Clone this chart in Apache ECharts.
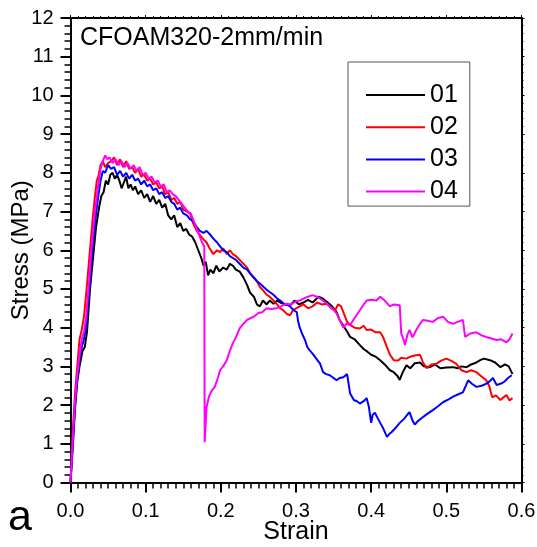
<!DOCTYPE html>
<html><head><meta charset="utf-8">
<script src="https://cdn.jsdelivr.net/npm/echarts@6/dist/echarts.min.js"></script>
<style>html,body{margin:0;padding:0;background:#fff}#c{width:537px;height:547px}</style>
</head><body><div id="c"></div>
<script>
const seriesNames = ['01','02','03','04'];
const seriesColors = ['#000000','#ff0000','#0000ff','#ff00ff'];
const xTicks = [0,0.1,0.2,0.3,0.4,0.5,0.6];
const yTicks = [0,1,2,3,4,5,6,7,8,9,10,11,12];

const s01 = [[0,0],[0.003,0.9],[0.006,1.9],[0.009,2.6],[0.012,3.0],[0.016,3.4],[0.019,3.5],[0.022,3.9],[0.026,5.0],[0.03,5.8],[0.034,6.6],[0.038,7.1],[0.041,7.4],[0.044,7.5],[0.047,7.8],[0.05,7.7],[0.053,7.95],[0.056,8.0],[0.059,7.85],[0.062,7.95],[0.065,7.8],[0.068,7.6],[0.071,7.75],[0.074,7.9],[0.077,7.6],[0.08,7.7],[0.083,7.55],[0.086,7.65],[0.09,7.45],[0.094,7.55],[0.098,7.35],[0.102,7.45],[0.106,7.25],[0.11,7.4],[0.114,7.2],[0.118,7.3],[0.122,7.1],[0.126,7.2],[0.13,6.9],[0.134,6.8],[0.138,6.9],[0.142,6.6],[0.146,6.7],[0.15,6.5],[0.154,6.55],[0.158,6.4],[0.162,6.35],[0.166,6.2],[0.17,6.0],[0.174,5.8],[0.177,5.6],[0.18,5.7],[0.183,5.35],[0.186,5.5],[0.19,5.4],[0.194,5.6],[0.198,5.45],[0.203,5.55],[0.208,5.5],[0.212,5.65],[0.216,5.6],[0.22,5.5],[0.225,5.45],[0.23,5.3],[0.235,5.1],[0.239,4.9],[0.244,4.8],[0.248,4.6],[0.252,4.55],[0.256,4.7],[0.261,4.6],[0.265,4.7],[0.27,4.62],[0.275,4.7],[0.279,4.65],[0.285,4.6],[0.292,4.57],[0.298,4.7],[0.304,4.6],[0.31,4.65],[0.316,4.72],[0.322,4.65],[0.33,4.8],[0.336,4.75],[0.342,4.65],[0.348,4.55],[0.354,4.4],[0.358,4.2],[0.363,4.05],[0.368,3.9],[0.372,3.76],[0.378,3.7],[0.385,3.55],[0.39,3.45],[0.395,3.38],[0.4,3.3],[0.406,3.25],[0.412,3.16],[0.418,3.05],[0.425,2.9],[0.43,2.85],[0.435,2.75],[0.438,2.65],[0.442,2.85],[0.447,3.03],[0.452,2.95],[0.458,3.08],[0.465,3.1],[0.47,3.0],[0.478,2.98],[0.485,3.05],[0.492,2.95],[0.5,2.97],[0.509,2.98],[0.515,2.95],[0.52,3.0],[0.527,2.98],[0.533,3.05],[0.54,3.1],[0.545,3.16],[0.55,3.2],[0.558,3.16],[0.565,3.1],[0.572,2.98],[0.578,3.05],[0.583,3.0],[0.588,2.8]];

const s02 = [[0,0],[0.003,1.3],[0.006,2.3],[0.009,3.0],[0.012,3.7],[0.015,3.95],[0.018,4.3],[0.021,4.9],[0.025,5.8],[0.029,6.7],[0.032,7.3],[0.035,7.8],[0.037,7.9],[0.04,8.2],[0.043,8.3],[0.046,8.15],[0.05,8.25],[0.054,8.3],[0.058,8.4],[0.062,8.2],[0.066,8.35],[0.07,8.15],[0.074,8.3],[0.078,8.1],[0.082,8.15],[0.086,8.0],[0.09,8.1],[0.094,7.9],[0.098,7.95],[0.102,7.8],[0.106,7.85],[0.11,7.7],[0.114,7.75],[0.118,7.6],[0.122,7.65],[0.126,7.45],[0.13,7.5],[0.134,7.3],[0.138,7.35],[0.142,7.2],[0.146,7.25],[0.15,7.05],[0.155,7.0],[0.159,6.95],[0.163,6.7],[0.168,6.5],[0.172,6.4],[0.176,6.3],[0.181,6.2],[0.185,6.05],[0.19,5.9],[0.195,6.0],[0.199,5.95],[0.203,6.05],[0.208,5.9],[0.212,6.0],[0.216,5.9],[0.22,5.85],[0.225,5.75],[0.23,5.65],[0.235,5.55],[0.239,5.4],[0.243,5.3],[0.248,5.2],[0.252,5.05],[0.256,4.97],[0.261,4.85],[0.265,4.8],[0.27,4.7],[0.275,4.6],[0.279,4.5],[0.283,4.45],[0.288,4.35],[0.292,4.32],[0.296,4.45],[0.3,4.5],[0.305,4.55],[0.31,4.6],[0.316,4.5],[0.322,4.55],[0.328,4.65],[0.334,4.6],[0.341,4.62],[0.347,4.5],[0.352,4.45],[0.356,4.6],[0.36,4.55],[0.364,4.35],[0.368,4.15],[0.372,4.07],[0.378,4.0],[0.385,3.98],[0.39,4.05],[0.394,3.94],[0.4,3.95],[0.406,3.88],[0.412,3.88],[0.416,3.75],[0.421,3.5],[0.425,3.3],[0.43,3.16],[0.436,3.15],[0.44,3.22],[0.447,3.2],[0.452,3.25],[0.458,3.28],[0.465,3.3],[0.469,3.1],[0.474,2.95],[0.48,3.05],[0.487,3.07],[0.493,3.15],[0.5,3.2],[0.506,3.15],[0.513,3.07],[0.52,2.9],[0.527,2.85],[0.533,2.9],[0.54,2.85],[0.546,2.75],[0.553,2.64],[0.557,2.5],[0.561,2.2],[0.566,2.25],[0.572,2.13],[0.576,2.2],[0.58,2.26],[0.584,2.12],[0.588,2.18]];

const s03 = [[0,0],[0.003,1.0],[0.006,2.0],[0.009,2.7],[0.012,3.2],[0.015,3.5],[0.018,3.7],[0.021,4.1],[0.025,5.0],[0.029,6.0],[0.033,6.8],[0.037,7.4],[0.04,7.8],[0.043,8.05],[0.046,8.0],[0.05,8.2],[0.054,8.1],[0.058,8.15],[0.062,7.95],[0.066,8.05],[0.07,7.9],[0.074,8.0],[0.078,7.85],[0.082,7.95],[0.086,7.8],[0.09,7.85],[0.094,7.7],[0.098,7.8],[0.102,7.65],[0.106,7.7],[0.11,7.55],[0.114,7.6],[0.118,7.45],[0.122,7.5],[0.126,7.35],[0.13,7.4],[0.134,7.25],[0.138,7.2],[0.142,7.05],[0.146,7.1],[0.15,6.95],[0.155,6.9],[0.159,6.8],[0.163,6.75],[0.168,6.6],[0.172,6.5],[0.177,6.45],[0.181,6.5],[0.186,6.4],[0.19,6.3],[0.195,6.2],[0.199,6.1],[0.203,6.0],[0.208,5.95],[0.212,5.85],[0.216,5.8],[0.22,5.75],[0.225,5.65],[0.23,5.55],[0.235,5.5],[0.239,5.4],[0.244,5.3],[0.248,5.2],[0.252,5.14],[0.257,5.05],[0.261,4.98],[0.265,4.92],[0.27,4.85],[0.275,4.75],[0.279,4.7],[0.284,4.62],[0.288,4.6],[0.292,4.55],[0.297,4.45],[0.301,4.4],[0.303,4.15],[0.305,4.0],[0.308,3.85],[0.312,3.68],[0.315,3.5],[0.318,3.42],[0.322,3.33],[0.327,3.2],[0.332,3.07],[0.336,2.85],[0.34,2.8],[0.345,2.77],[0.35,2.7],[0.354,2.64],[0.358,2.7],[0.363,2.72],[0.368,2.8],[0.372,2.3],[0.377,2.13],[0.381,2.1],[0.385,2.04],[0.39,2.1],[0.394,2.18],[0.397,1.95],[0.4,1.54],[0.402,1.75],[0.405,1.8],[0.409,1.65],[0.412,1.54],[0.416,1.4],[0.421,1.18],[0.424,1.25],[0.427,1.3],[0.432,1.4],[0.438,1.54],[0.444,1.65],[0.448,1.75],[0.451,1.82],[0.455,1.6],[0.458,1.5],[0.463,1.6],[0.469,1.69],[0.475,1.78],[0.482,1.87],[0.489,1.97],[0.496,2.08],[0.503,2.15],[0.509,2.22],[0.516,2.28],[0.522,2.33],[0.526,2.5],[0.529,2.64],[0.534,2.55],[0.54,2.47],[0.547,2.5],[0.554,2.56],[0.558,2.62],[0.562,2.7],[0.567,2.52],[0.572,2.55],[0.577,2.6],[0.582,2.7],[0.587,2.77]];

const s04 = [[0,0],[0.003,1.1],[0.006,2.1],[0.009,2.8],[0.012,3.3],[0.015,3.7],[0.018,3.9],[0.021,4.3],[0.025,5.3],[0.029,6.3],[0.033,7.1],[0.037,7.7],[0.04,8.1],[0.043,8.3],[0.046,8.45],[0.049,8.35],[0.052,8.4],[0.056,8.25],[0.06,8.35],[0.064,8.2],[0.068,8.3],[0.072,8.15],[0.076,8.25],[0.08,8.1],[0.084,8.2],[0.088,8.05],[0.092,8.15],[0.096,7.95],[0.1,8.0],[0.104,7.85],[0.108,7.9],[0.112,7.75],[0.116,7.8],[0.12,7.65],[0.124,7.7],[0.128,7.5],[0.132,7.55],[0.136,7.45],[0.14,7.4],[0.144,7.3],[0.148,7.2],[0.152,7.1],[0.156,7.0],[0.16,6.95],[0.164,6.75],[0.168,6.55],[0.172,6.35],[0.175,6.2],[0.178,6.1],[0.1785,1.04],[0.181,1.94],[0.184,2.2],[0.186,2.3],[0.189,2.4],[0.192,2.47],[0.196,2.7],[0.199,2.9],[0.203,3.0],[0.208,3.16],[0.212,3.4],[0.216,3.6],[0.22,3.75],[0.225,3.98],[0.23,4.1],[0.235,4.2],[0.24,4.25],[0.245,4.3],[0.25,4.38],[0.255,4.4],[0.261,4.5],[0.267,4.48],[0.274,4.5],[0.28,4.55],[0.287,4.62],[0.293,4.6],[0.3,4.68],[0.305,4.7],[0.31,4.75],[0.316,4.8],[0.322,4.84],[0.328,4.8],[0.336,4.7],[0.342,4.6],[0.348,4.5],[0.354,4.37],[0.358,4.2],[0.363,4.0],[0.367,4.1],[0.372,4.07],[0.378,4.25],[0.385,4.45],[0.39,4.6],[0.394,4.7],[0.4,4.72],[0.407,4.7],[0.412,4.8],[0.418,4.7],[0.425,4.55],[0.43,4.6],[0.438,4.58],[0.44,3.85],[0.443,3.7],[0.445,3.55],[0.448,3.8],[0.451,3.94],[0.455,3.75],[0.46,3.94],[0.465,4.1],[0.469,4.2],[0.475,4.18],[0.482,4.15],[0.489,4.25],[0.496,4.28],[0.502,4.15],[0.509,4.1],[0.515,4.15],[0.522,4.2],[0.525,3.76],[0.532,3.85],[0.54,3.88],[0.547,3.8],[0.553,3.76],[0.56,3.72],[0.567,3.68],[0.573,3.7],[0.58,3.62],[0.584,3.7],[0.588,3.85]];

const seriesData = [s01, s02, s03, s04];
const FONT = 'Arial, "Liberation Sans", sans-serif';

const chart = echarts.init(document.getElementById('c'), null, {renderer: 'canvas'});
const axisCommon = {
  axisLine: {show: true, onZero: false, lineStyle: {color: '#000', width: 2}},
  splitLine: {show: false}
};
chart.setOption({
  animation: false,
  backgroundColor: '#fff',
  grid: {left: 70.5, right: 15.5, top: 18, bottom: 64.5, containLabel: false, outerBoundsMode: 'none'},
  legend: {
    data: seriesNames,
    orient: 'vertical',
    left: 348, top: 62,
    padding: [20.5, 12, 2, 18],
    itemGap: 7.2,
    itemWidth: 59, itemHeight: 2,
    itemTextGap: 3,
    icon: 'rect',
    borderColor: '#555', borderWidth: 1,
    textStyle: {fontFamily: FONT, fontSize: 25, color: '#000'}
  },
  xAxis: [{
    type: 'value', min: 0, max: 0.6, interval: 0.1, position: 'bottom',
    ...axisCommon,
    axisTick: {show: true, inside: false, length: 10, lineStyle: {color: '#000', width: 2}},
    minorTick: {show: true, splitNumber: 10, length: 6, lineStyle: {color: '#000', width: 1.5}},
    axisLabel: {formatter: v => xTicks.includes(+v.toFixed(1)) ? v.toFixed(1) : '', fontFamily: FONT, fontSize: 20, color: '#000', margin: 19},
    name: 'Strain', nameLocation: 'middle', nameGap: 37, nameMoveOverlap: false,
    nameTextStyle: {fontFamily: FONT, fontSize: 25, color: '#000'}
  }, {
    type: 'value', min: 0, max: 0.6, interval: 0.1, position: 'top',
    ...axisCommon,
    axisTick: {show: true, inside: false, length: 3, lineStyle: {color: '#000', width: 1}},
    minorTick: {show: true, splitNumber: 10, length: 2, lineStyle: {color: '#000', width: 1}},
    axisLabel: {show: false}
  }],
  yAxis: [{
    type: 'value', min: 0, max: 12, interval: 1, position: 'left',
    ...axisCommon,
    axisTick: {show: true, inside: false, length: 10, lineStyle: {color: '#000', width: 2}},
    minorTick: {show: true, splitNumber: 5, length: 6, lineStyle: {color: '#000', width: 1.5}},
    axisLabel: {formatter: v => yTicks.includes(v) ? String(v) : '', fontFamily: FONT, fontSize: 20, color: '#000', margin: 17},
    name: 'Stress (MPa)', nameLocation: 'middle', nameGap: 37, nameMoveOverlap: false,
    nameTextStyle: {fontFamily: FONT, fontSize: 24, color: '#000'}
  }, {
    type: 'value', min: 0, max: 12, interval: 1, position: 'right',
    ...axisCommon,
    axisTick: {show: true, inside: false, length: 3, lineStyle: {color: '#000', width: 1}},
    minorTick: {show: true, splitNumber: 5, length: 2, lineStyle: {color: '#000', width: 1}},
    axisLabel: {show: false}
  }],
  graphic: [
    {type: 'text', left: 80, top: 26, style: {text: 'CFOAM320-2mm/min', font: '25px ' + FONT, fill: '#000'}},
    {type: 'text', left: 8, top: 497, style: {text: 'a', font: '43px ' + FONT, fill: '#000'}}
  ],
  series: seriesNames.map((n, i) => ({
    name: n, type: 'line', data: seriesData[i],
    xAxisIndex: 0, yAxisIndex: 0,
    showSymbol: false, symbol: 'none',
    lineStyle: {color: seriesColors[i], width: 2},
    itemStyle: {color: seriesColors[i]}
  }))
});
</script></body></html>
